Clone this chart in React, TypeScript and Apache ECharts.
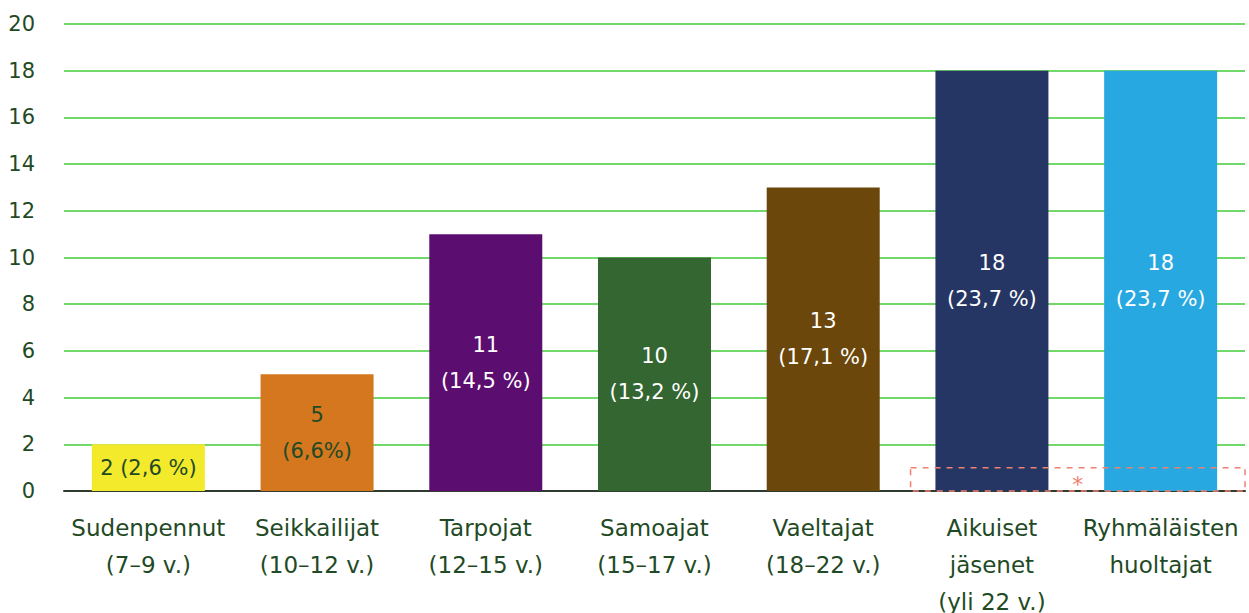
import React, { useEffect, useRef } from "react";
import * as echarts from "echarts";

const categories = [
  "Sudenpennut\n(7–9 v.)",
  "Seikkailijat\n(10–12 v.)",
  "Tarpojat\n(12–15 v.)",
  "Samoajat\n(15–17 v.)",
  "Vaeltajat\n(18–22 v.)",
  "Aikuiset\njäsenet\n(yli 22 v.)",
  "Ryhmäläisten\nhuoltajat",
];
const values = [2, 5, 11, 10, 13, 18, 18];
const barLabels = [
  "2 (2,6 %)",
  "5\n(6,6%)",
  "11\n(14,5 %)",
  "10\n(13,2 %)",
  "13\n(17,1 %)",
  "18\n(23,7 %)",
  "18\n(23,7 %)",
];
const barColors = ["#F4EA2C", "#D4771E", "#5C0E70", "#336630", "#6B470C", "#253664", "#28A8E0"];
const labelColors = ["#1F4A25", "#1F4A25", "#FFFFFF", "#FFFFFF", "#FFFFFF", "#FFFFFF", "#FFFFFF"];
const noteRange = [0, 1]; // value range of dashed annotation box
const noteCats = [5, 6];

const FONT = "DejaVu Sans";
const TEXT = "#1F4A25";

export default function App() {
  const ref = useRef<HTMLDivElement>(null);
  useEffect(() => {
    if (!ref.current) return;
    const chart = echarts.init(ref.current, null, { renderer: "svg" });
    chart.setOption({
      animation: false,
      grid: {
        left: 64,
        right: 4,
        top: 24,
        bottom: 122,
        containLabel: false,
        outerBoundsMode: "none",
      },
      xAxis: {
        type: "category",
        data: categories,
        axisLine: { show: true, lineStyle: { color: "#2E3B2E", width: 2 } },
        axisTick: { show: false },
        axisLabel: {
          color: TEXT,
          fontFamily: FONT,
          fontSize: 23,
          lineHeight: 37,
          margin: 18,
          interval: 0,
        },
      },
      yAxis: {
        type: "value",
        min: 0,
        max: 20,
        interval: 2,
        axisLine: { show: false },
        axisTick: { show: false },
        splitLine: { lineStyle: { color: "#40CC38", width: 1.5 } },
        axisLabel: { color: TEXT, fontFamily: FONT, fontSize: 21, margin: 29 },
      },
      series: [
        {
          type: "bar",
          barWidth: 113,
          data: values.map((v, i) => ({
            value: v,
            itemStyle: { color: barColors[i] },
            label: {
              show: true,
              position: "inside",
              formatter: barLabels[i],
              color: labelColors[i],
              fontFamily: FONT,
              fontSize: 21,
              lineHeight: 36,
            },
          })),
        },
      ],
    });
    const x0 = chart.convertToPixel({ xAxisIndex: 0 }, noteCats[0]) as number;
    const x1 = chart.convertToPixel({ xAxisIndex: 0 }, noteCats[1]) as number;
    const band = x1 - x0;
    const yTop = chart.convertToPixel({ yAxisIndex: 0 }, noteRange[1]) as number;
    const yBot = chart.convertToPixel({ yAxisIndex: 0 }, noteRange[0]) as number;
    const left = x0 - band / 2 + 3;
    const right = x1 + band / 2;
    chart.setOption({
      graphic: [
        {
          type: "rect",
          shape: { x: left, y: yTop, width: right - left, height: yBot - yTop },
          style: { fill: "none", stroke: "#F08070", lineWidth: 1.5, lineDash: [6, 6] },
          z: 10,
        },
        {
          type: "text",
          x: (left + right) / 2,
          y: (yTop + yBot) / 2 + 5,
          style: {
            text: "*",
            fill: "#F08070",
            fontSize: 22,
            fontFamily: FONT,
            textAlign: "center",
            textVerticalAlign: "middle",
          },
          z: 10,
        },
      ],
    });
    return () => chart.dispose();
  }, []);
  return (
    <div
      ref={ref}
      style={{ position: "absolute", left: 0, top: 0, width: 1249, height: 613, background: "#fff" }}
    />
  );
}
